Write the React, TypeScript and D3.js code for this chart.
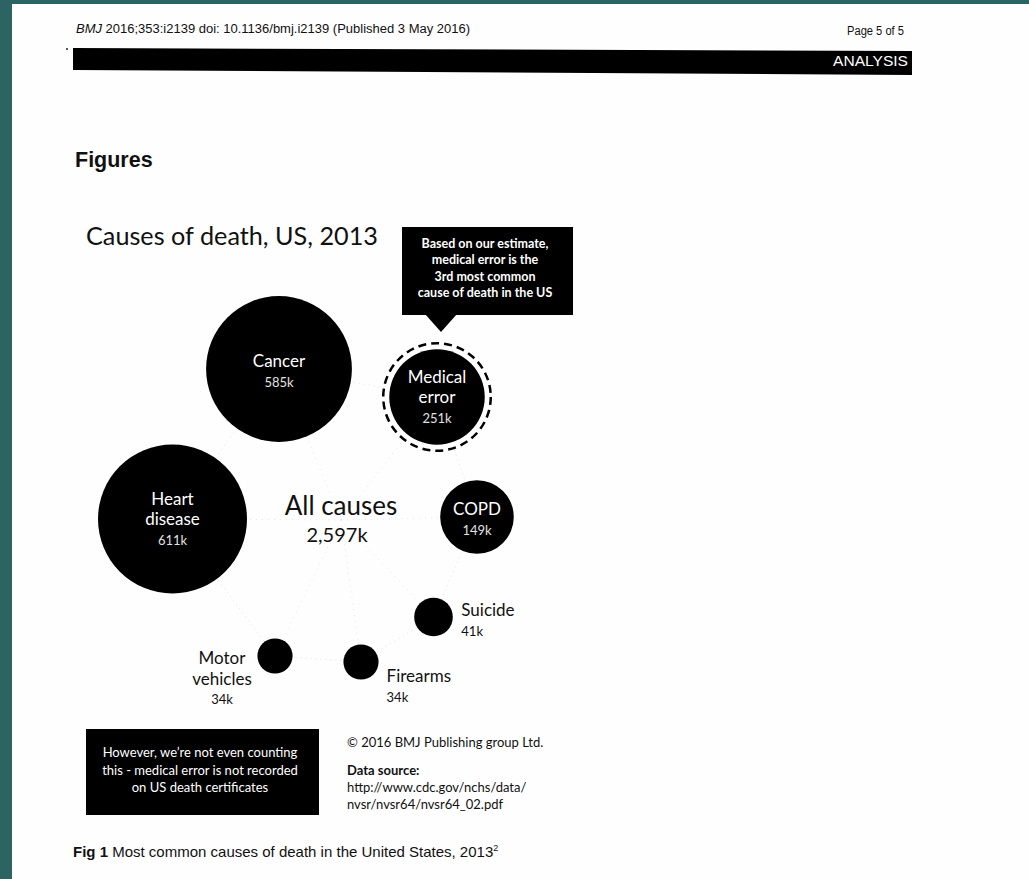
import React from "react";
import * as d3 from "d3";

// ---- data ----
const causes = ["Heart disease", "Cancer", "Medical error", "COPD", "Suicide", "Firearms", "Motor vehicles"];
const deaths = [611, 585, 251, 149, 41, 34, 34]; // thousands
const allCausesTotal = 2597; // thousands
const calloutLines = ["Based on our estimate,", "medical error is the", "3rd most common", "cause of death in the US"];
const noteLines = ["However, we\u2019re not even counting", "this - medical error is not recorded", "on US death certificates"];
const sourceLines = ["http://www.cdc.gov/nchs/data/", "nvsr/nvsr64/nvsr64_02.pdf"];

// ---- layout (not data) ----
const layout: Record<string, { x: number; y: number; label: string[]; mode: "inside" | "right" | "left" }> = {
  "Heart disease": { x: 172.5, y: 519, label: ["Heart", "disease"], mode: "inside" },
  Cancer: { x: 279, y: 369, label: ["Cancer"], mode: "inside" },
  "Medical error": { x: 437, y: 397, label: ["Medical", "error"], mode: "inside" },
  COPD: { x: 477, y: 517, label: ["COPD"], mode: "inside" },
  Suicide: { x: 433.5, y: 617, label: ["Suicide"], mode: "right" },
  Firearms: { x: 361, y: 662, label: ["Firearms"], mode: "right" },
  "Motor vehicles": { x: 275, y: 656, label: ["Motor", "vehicles"], mode: "left" },
};
const ring = ["Heart disease", "Cancer", "Medical error", "COPD", "Suicide", "Firearms", "Motor vehicles", "Heart disease"];
const center = { x: 341, y: 520 };

const W = 1029;
const H = 879;
const FONT = "Lato, 'Open Sans', sans-serif";
const HFONT = "'Liberation Sans', Arial, sans-serif";

export default function App() {
  const r = d3.scaleSqrt().domain([0, d3.max(deaths) as number]).range([0, 74.5]);
  const fmt = (v: number) => d3.format(",")(v) + "k";
  const nodes = causes.map((c, i) => ({ name: c, value: deaths[i], ...layout[c] }));
  const byName = new Map(nodes.map((n) => [n.name, n]));
  const ringLine = d3.line<any>().x((d) => d.x).y((d) => d.y);
  const med = byName.get("Medical error")!;
  const LH = 20.5;
  const FS = 17;

  return (
    <svg width={W} height={H} style={{ position: "absolute", left: 0, top: 0, display: "block" }}>
      <rect x={0} y={0} width={W} height={H} fill="#2c6463" />
      <rect x={12} y={4} width={W - 12} height={H - 4} fill="#fefefe" />

      {/* header */}
      <text x={76} y={33} fontFamily={HFONT} fontSize={12.5} fill="#111" textLength={394} lengthAdjust="spacingAndGlyphs">
        <tspan fontStyle="italic">BMJ</tspan> 2016;353:i2139 doi: 10.1136/bmj.i2139 (Published 3 May 2016)
      </text>
      <text x={904} y={35} fontFamily={HFONT} fontSize={12.5} fill="#111" textAnchor="end" textLength={57} lengthAdjust="spacingAndGlyphs">
        Page 5 of 5
      </text>
      <circle cx={67} cy={49} r={1} fill="#222" />
      <polygon points="73,48 912,51 912,75 73,70" fill="#000" />
      <text x={908} y={66} fontFamily={HFONT} fontSize={15} fill="#fff" textAnchor="end" textLength={75} lengthAdjust="spacingAndGlyphs">
        ANALYSIS
      </text>

      <text x={75} y={167} fontFamily={HFONT} fontSize={21.5} fontWeight="bold" fill="#111">
        Figures
      </text>

      {/* chart title */}
      <text x={86} y={245} fontFamily={FONT} fontSize={25} fill="#111" textLength={292} lengthAdjust="spacingAndGlyphs">
        Causes of death, US, 2013
      </text>

      {/* callout */}
      <rect x={402} y={227} width={171} height={88} fill="#000" />
      <polygon points={`425,314 457,314 441,332`} fill="#000" />
      {calloutLines.map((l, i) => (
        <text key={l} x={485} y={248 + i * 16.4} fontFamily={FONT} fontSize={12.5} fontWeight={700} fill="#fff" textAnchor="middle">
          {l}
        </text>
      ))}

      {/* faint dotted connections */}
      <path d={ringLine(ring.map((n) => byName.get(n)!)) as string} fill="none" stroke="#e2e2e2" strokeWidth={1} strokeDasharray="1,4" />
      {nodes.map((n) => (
        <line key={"s" + n.name} x1={center.x} y1={center.y} x2={n.x} y2={n.y} stroke="#e6e6e6" strokeWidth={1} strokeDasharray="1,5" />
      ))}

      {/* dashed ring for medical error */}
      <circle cx={med.x} cy={med.y} r={r(med.value) + 6} fill="#fff" stroke="#000" strokeWidth={2.5} strokeDasharray="8,5" />

      {/* bubbles */}
      {nodes.map((n) => (
        <circle key={n.name} cx={n.x} cy={n.y} r={r(n.value)} fill="#000" />
      ))}

      {/* labels */}
      {nodes.map((n) => {
        if (n.mode === "inside") {
          const k = n.label.length;
          const top = n.y - ((k - 1) * LH) / 2 - (k === 1 ? 2 : 4);
          return (
            <g key={"l" + n.name} fontFamily={FONT} textAnchor="middle">
              {n.label.map((t, i) => (
                <text key={t} x={n.x} y={top + i * LH} fontSize={FS} fill="#fff">
                  {t}
                </text>
              ))}
              <text x={n.x} y={top + (k - 1) * LH + 19.5} fontSize={13} fill="#e2e2e2">
                {fmt(n.value)}
              </text>
            </g>
          );
        }
        if (n.mode === "right") {
          const lx = n.x + r(n.value) + (n.name === "Suicide" ? 8.5 : 8);
          const ly = n.name === "Suicide" ? n.y - 1 : n.y + 20;
          return (
            <g key={"l" + n.name} fontFamily={FONT}>
              <text x={lx} y={ly} fontSize={FS} fill="#111">
                {n.label[0]}
              </text>
              <text x={lx} y={ly + 19.5} fontSize={13} fill="#111">
                {fmt(n.value)}
              </text>
            </g>
          );
        }
        const cx = n.x - 53;
        return (
          <g key={"l" + n.name} fontFamily={FONT} textAnchor="middle">
            {n.label.map((t, i) => (
              <text key={t} x={cx} y={n.y + 8 + i * LH} fontSize={FS} fill="#111">
                {t}
              </text>
            ))}
            <text x={cx} y={n.y + 47.5} fontSize={13} fill="#111">
              {fmt(n.value)}
            </text>
          </g>
        );
      })}

      {/* all causes */}
      <text x={341} y={515} fontFamily={FONT} fontSize={26} fill="#111" textAnchor="middle">
        All causes
      </text>
      <text x={337} y={542} fontFamily={FONT} fontSize={20} fill="#111" textAnchor="middle">
        {fmt(allCausesTotal)}
      </text>

      {/* bottom note */}
      <rect x={86} y={729} width={233} height={86} fill="#000" />
      {noteLines.map((l, i) => (
        <text key={l} x={200} y={757 + i * 17.5} fontFamily={FONT} fontSize={13} fill="#fff" textAnchor="middle">
          {l}
        </text>
      ))}

      {/* credits */}
      <text x={347} y={747} fontFamily={FONT} fontSize={13} fill="#111">
        © 2016 BMJ Publishing group Ltd.
      </text>
      <text x={347} y={775} fontFamily={FONT} fontSize={13} fontWeight={700} fill="#111">
        Data source:
      </text>
      {sourceLines.map((l, i) => (
        <text key={l} x={347} y={792 + i * 17} fontFamily={FONT} fontSize={13} fill="#111">
          {l}
        </text>
      ))}

      {/* caption */}
      <text x={73} y={857} fontFamily={HFONT} fontSize={15} fill="#111">
        <tspan fontWeight="bold">Fig 1</tspan> Most common causes of death in the United States, 2013
        <tspan fontSize={9} dy={-6}>2</tspan>
      </text>
    </svg>
  );
}
